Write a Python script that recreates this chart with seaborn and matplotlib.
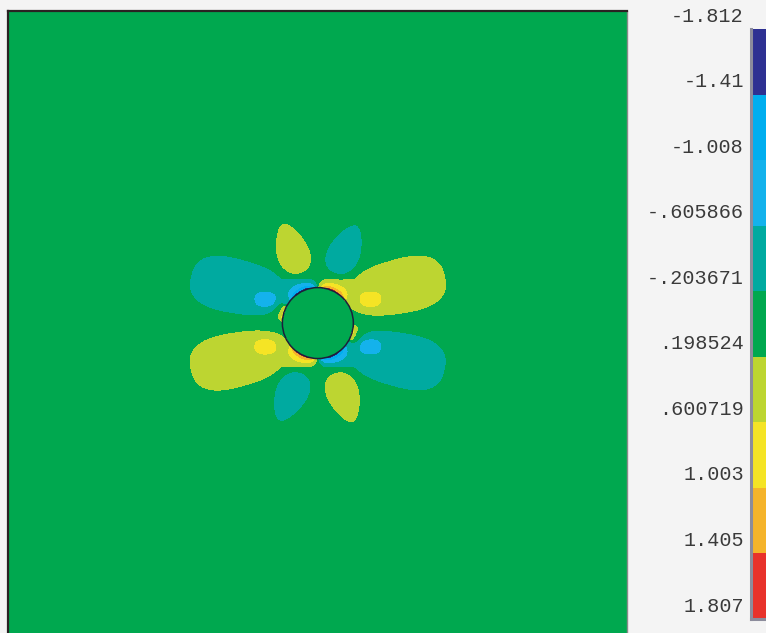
import numpy as np
import matplotlib
matplotlib.use("Agg")
import matplotlib.pyplot as plt
from matplotlib.colors import ListedColormap
from matplotlib.patches import Circle
import seaborn as sns

# Contour band limits (legend values) and the colour of each band
LEVELS = [-1.812, -1.41, -1.008, -0.605866, -0.203671,
          0.198524, 0.600719, 1.003, 1.405, 1.807]
LEVEL_LABELS = ["-1.812", "-1.41", "-1.008", "-.605866", "-.203671",
                ".198524", ".600719", "1.003", "1.405", "1.807"]
BAND_COLORS = ["#2e3192", "#00aeef", "#14b2ec", "#00aaa0", "#00a84f",
               "#bdd531", "#f5e425", "#f5b42b", "#e8322b"]

# Plate window and hole, in hole radii (hole centred at the origin)
PLATE_X = [-8.73, 8.71]
PLATE_Y = [-8.73, 8.79]
HOLE_RADIUS = 1.0

# Stress features of the upper half plate; the lower half is the same
# pattern turned through 180 degrees.
# (value, x, y, half-length, half-width, axis angle deg, taper, squareness)
PETALS = [(0.40, 2.20, 1.02, 1.42, 0.76, 12.5, -0.12, 2.6),
          (-0.40, -2.20, 1.02, 1.42, 0.76, 167.5, -0.12, 2.6)]
NECKS = [(0.40, 0.72, 0.84, 0.82, 0.42, 8.0, 0.0, 2.4),
         (-0.40, -0.72, 0.84, 0.82, 0.42, 172.0, 0.0, 2.4)]
SIDE_LOBES = [(0.40, -0.75, 2.08, 0.76, 0.45, 108.8, 0.3, 2.0),
              (-0.40, 0.79, 2.06, 0.76, 0.45, 66.0, 0.3, 2.0)]
HOT_SPOTS = [(0.40, 1.49, 0.68, 0.31, 0.22, 0.0, 0.0, 2.5),
             (-0.40, -1.49, 0.68, 0.31, 0.22, 180.0, 0.0, 2.5)]
# hole-edge concentrations: (peak, polar angle deg, half-angle deg, decay)
EDGE_PEAKS = [(1.45, 64.0, 22.0, 0.14),
              (-1.50, 116.0, 22.0, 0.14),
              (1.15, 163.0, 13.0, 0.13)]

W, H, DPI = 766, 633, 100
sns.set_theme(style="white")
plt.rcParams["font.family"] = ["Liberation Mono", "DejaVu Sans Mono"]

fig = plt.figure(figsize=(W / DPI, H / DPI), dpi=DPI, facecolor="#f4f4f4")

# ---- stress field on a fine grid (row 0 = top of plate) ----
nx, ny = 620, 623
dx = (PLATE_X[1] - PLATE_X[0]) / nx
dy = (PLATE_Y[1] - PLATE_Y[0]) / ny
xs = PLATE_X[0] + (np.arange(nx) + 0.5) * dx
ys = PLATE_Y[1] - (np.arange(ny) + 0.5) * dy
X, Y = np.meshgrid(xs, ys)
R = np.hypot(X, Y)
TH = np.degrees(np.arctan2(Y, X))


def with_turned_copy(feats):
    out = list(feats)
    for f in feats:
        out.append((f[0], -f[1], -f[2]) + tuple(f[3:5]) + (f[5] + 180.0,) + tuple(f[6:]))
    return out


def plateau(f):
    val, cx, cy, L, Wd, ang, taper, q = f
    a = np.radians(ang)
    u = (X - cx) * np.cos(a) + (Y - cy) * np.sin(a)
    v = -(X - cx) * np.sin(a) + (Y - cy) * np.cos(a)
    w = Wd * (1 - taper * np.clip(u / L, -1, 1))
    d = (np.abs(u / L) ** q + np.abs(v / w) ** q) ** (1 / q)
    return 1.0 / (1.0 + d ** 8)


pos = np.zeros_like(X)
neg = np.zeros_like(X)
for f in with_turned_copy(PETALS + NECKS + SIDE_LOBES):
    if f[0] > 0:
        pos = np.maximum(pos, f[0] * plateau(f))
    else:
        neg = np.minimum(neg, f[0] * plateau(f))
tau = pos + neg
for f in with_turned_copy(HOT_SPOTS):
    tau += f[0] * plateau(f)

for peak, th0, half, decay in EDGE_PEAKS:
    for th in (th0, th0 - 180.0):
        dth = (TH - th + 180.0) % 360.0 - 180.0
        tau += (peak * np.exp(-np.clip(R - HOLE_RADIUS, 0, None) / decay)
                * np.exp(-(dth / half) ** 4))

tau[R < HOLE_RADIUS] = 0.0
band = np.digitize(tau, LEVELS[1:-1])

cmap = ListedColormap(BAND_COLORS)

ax = fig.add_axes([8 / W, 0, 619 / W, 622 / H])
sns.heatmap(band, cmap=cmap, vmin=-0.5, vmax=len(BAND_COLORS) - 0.5,
            cbar=False, xticklabels=False, yticklabels=False,
            linewidths=0, rasterized=True, ax=ax)
cx = (0 - PLATE_X[0]) / dx
cy = (PLATE_Y[1] - 0) / dy
ax.add_patch(Circle((cx, cy), HOLE_RADIUS / dx, facecolor="none",
                    edgecolor="#1c1f3a", linewidth=1.1, zorder=5))
for side in ax.spines.values():
    side.set_visible(True)
ax.spines["left"].set_color("#2a2222")
ax.spines["top"].set_color("#2a2222")
ax.spines["left"].set_linewidth(1.6)
ax.spines["top"].set_linewidth(1.6)
ax.spines["right"].set_color("#8a8a8a")
ax.spines["right"].set_linewidth(1.0)
ax.spines["bottom"].set_visible(False)

# ---- legend strip ----
cb_top, cb_bot = 29, 619
cax = fig.add_axes([751 / W, (H - cb_bot) / H, 24 / W, (cb_bot - cb_top) / H])
sns.heatmap(np.arange(len(BAND_COLORS)).reshape(-1, 1), cmap=cmap,
            vmin=-0.5, vmax=len(BAND_COLORS) - 0.5, cbar=False,
            xticklabels=False, yticklabels=False, linewidths=0, ax=cax)
for side in cax.spines.values():
    side.set_visible(False)
cax.spines["left"].set_visible(True)
cax.spines["bottom"].set_visible(True)
cax.spines["left"].set_color("#8c8c9c")
cax.spines["bottom"].set_color("#8c8c9c")
cax.spines["left"].set_linewidth(2.2)
cax.spines["bottom"].set_linewidth(2.2)

step = (cb_bot - cb_top) / (len(LEVELS) - 1)
for k, lab in enumerate(LEVEL_LABELS):
    ypx = cb_top + k * step - 13
    fig.text(744 / W, 1 - ypx / H, lab, ha="right", va="center",
             fontsize=14.5, color="#3a3a3a")

fig.savefig("out.png", dpi=DPI, facecolor=fig.get_facecolor())
